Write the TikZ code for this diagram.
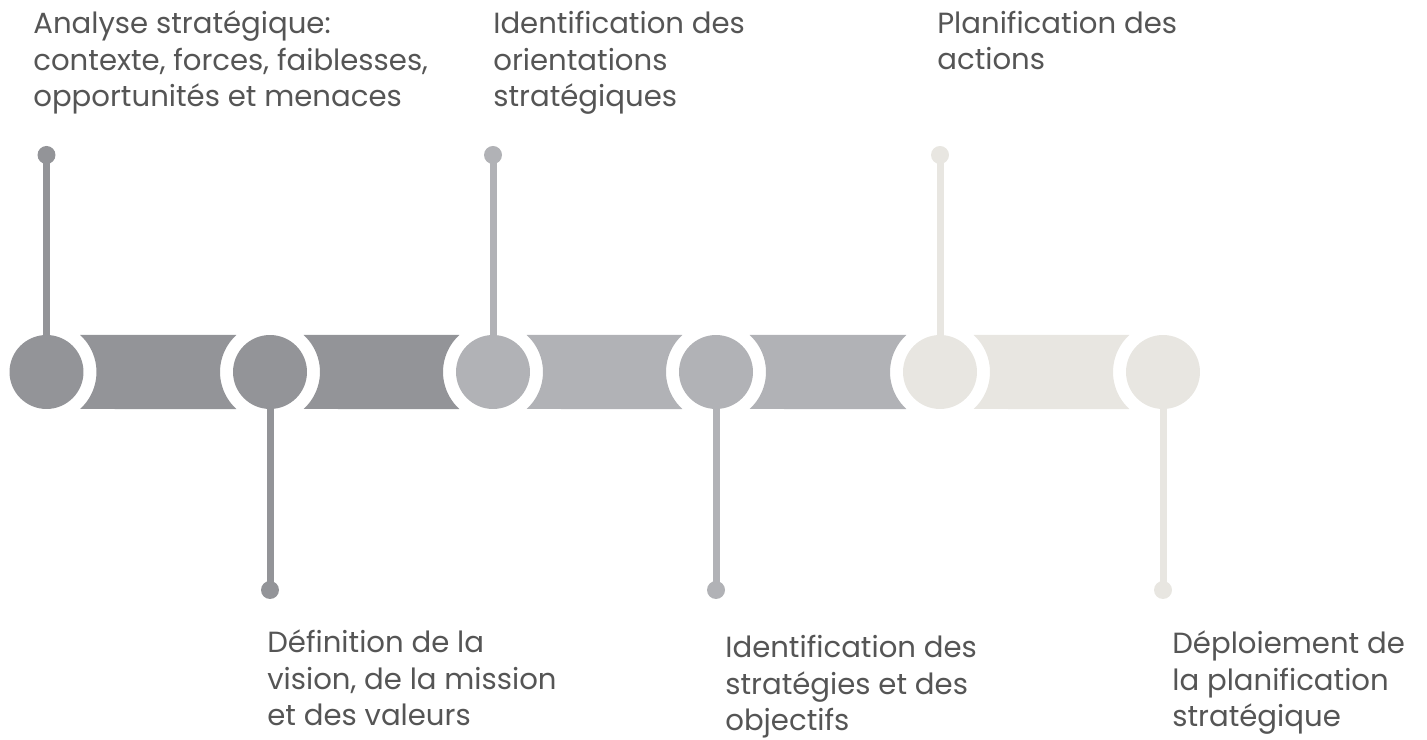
\documentclass[tikz,border=0pt]{standalone}
\usepackage{fontspec}
\setmainfont{Poppins}

\definecolor{darkgray}{HTML}{939498}
\definecolor{midgray}{HTML}{B1B2B6}
\definecolor{lightgray}{HTML}{E8E6E1}
\definecolor{textgray}{HTML}{555555}

\tikzset{
  disc/.style={circle, inner sep=0pt, minimum size=1.48cm},
  knob/.style={circle, inner sep=0pt, minimum size=0.36cm},
  stem/.style={line width=0.14cm},
  note/.style={anchor=base west, align=left, inner sep=0pt, text=textgray,
    font=\fontsize{16.6}{21}\selectfont}
}

\begin{document}
\begin{tikzpicture}[x=0.02cm, y=0.02cm]
        \useasboundingbox (0,0) rectangle (1427,740);

        % bands between the discs
        \fill[darkgray] (80.1,405) -- (236.4,405) arc[start angle=132.24, end angle=227.76, radius=50]
            -- (80.1,331) arc[start angle=-47.76, end angle=47.76, radius=50] -- cycle;
        \fill[darkgray] (303.6,405) -- (459.4,405) arc[start angle=132.24, end angle=227.76, radius=50]
            -- (303.6,331) arc[start angle=-47.76, end angle=47.76, radius=50] -- cycle;
        \fill[midgray] (526.6,405) -- (682.4,405) arc[start angle=132.24, end angle=227.76, radius=50]
            -- (526.6,331) arc[start angle=-47.76, end angle=47.76, radius=50] -- cycle;
        \fill[midgray] (749.6,405) -- (906.4,405) arc[start angle=132.24, end angle=227.76, radius=50]
            -- (749.6,331) arc[start angle=-47.76, end angle=47.76, radius=50] -- cycle;
        \fill[lightgray] (973.6,405) -- (1129.4,405) arc[start angle=132.24, end angle=227.76, radius=50]
            -- (973.6,331) arc[start angle=-47.76, end angle=47.76, radius=50] -- cycle;

        % discs
        \node[disc, fill=darkgray] (c1) at (46.5,368) {};
        \node[disc, fill=darkgray] (c2) at (270,368) {};
        \node[disc, fill=midgray] (c3) at (493,368) {};
        \node[disc, fill=midgray] (c4) at (716,368) {};
        \node[disc, fill=lightgray] (c5) at (940,368) {};
        \node[disc, fill=lightgray] (c6) at (1163,368) {};

        % knobs
        \node[knob, fill=darkgray] (d1) at (46.5,585) {};
        \node[knob, fill=darkgray] (d2) at (270,150) {};
        \node[knob, fill=midgray] (d3) at (493,585) {};
        \node[knob, fill=midgray] (d4) at (716,150) {};
        \node[knob, fill=lightgray] (d5) at (940,585) {};
        \node[knob, fill=lightgray] (d6) at (1163,150) {};

        \draw[stem, darkgray] (c1.center) -- (d1.center);
        \draw[stem, darkgray] (c2.center) -- (d2.center);
        \draw[stem, midgray] (c3.center) -- (d3.center);
        \draw[stem, midgray] (c4.center) -- (d4.center);
        \draw[stem, lightgray] (c5.center) -- (d5.center);
        \draw[stem, lightgray] (c6.center) -- (d6.center);

        % texts (anchored at the last line)
        \node[note] (t1) at (33,633) {Analyse stratégique:\\contexte, forces, faiblesses,\\opportunités et menaces};
        \node[note] (t3) at (493,633) {Identification des\\orientations\\stratégiques};
        \node[note] (t5) at (937,670) {Planification des\\actions};
        \node[note] (t2) at (267,14) {Définition de la\\vision, de la mission\\et des valeurs};
        \node[note] (t4) at (725,9) {Identification des\\stratégies et des\\objectifs};
        \node[note] (t6) at (1172,13) {Déploiement de\\la planification\\stratégique};
    \end{tikzpicture}
\end{document}
